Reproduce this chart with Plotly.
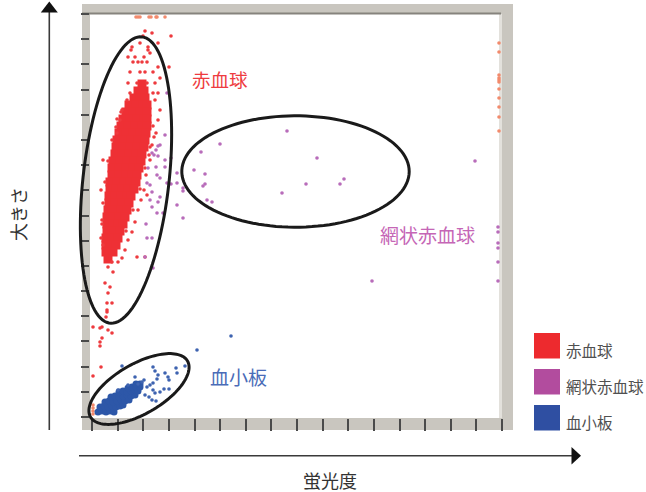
import numpy as np
import plotly.graph_objects as go

# ---------------- data (arbitrary units: fluorescence x, size y) ----------------
# RBC dense core
rbc_core_x = [50,
              46, 52,
              42, 48, 53,
              37, 44, 51, 55,
              34, 41, 48, 55,
              31, 38, 45, 52, 55,
              29, 36, 43, 50, 55,
              27, 34, 41, 48, 54,
              25, 32, 39, 46, 53,
              24, 31, 38, 45, 52,
              23, 30, 37, 44, 50,
              21, 28, 35, 42, 49,
              20, 27, 34, 41, 47,
              20, 27, 34, 40, 45,
              18, 25, 32, 38, 44,
              18, 24, 30, 36, 42,
              17, 23, 29, 35, 39,
              17, 23, 30, 37,
              16, 22, 29, 35,
              15, 21, 27, 33,
              15, 21, 26, 31,
              15, 22, 28,
              14, 20, 26,
              14, 19, 24,
              14, 21,
              16]
rbc_core_y = [333,
              326, 326,
              319, 319, 319,
              312, 312, 312, 312,
              305, 305, 305, 305,
              298, 298, 298, 298, 298,
              291, 291, 291, 291, 291,
              284, 284, 284, 284, 284,
              277, 277, 277, 277, 277,
              270, 270, 270, 270, 270,
              263, 263, 263, 263, 263,
              256, 256, 256, 256, 256,
              249, 249, 249, 249, 249,
              242, 242, 242, 242, 242,
              235, 235, 235, 235, 235,
              228, 228, 228, 228, 228,
              221, 221, 221, 221, 221,
              214, 214, 214, 214,
              207, 207, 207, 207,
              200, 200, 200, 200,
              193, 193, 193, 193,
              186, 186, 186,
              179, 179, 179,
              172, 172, 172,
              165, 165,
              158]

# RBC scattered events
rbc_x = [53, 60, 79, 51, 66, 48, 40, 56, 39, 56, 58, 36, 43, 52, 41, 46, 50, 55, 66, 77,
         38, 48, 53, 61, 68, 36, 45, 55, 63, 38, 61, 66, 35, 63, 30, 68, 28, 66, 25, 64,
         60, 58, 54, 52, 49, 55, 46, 43, 40, 36, 33, 45, 53, 11, 9, 10, 11, 30, 26, 20,
         16, 21, 13, 18, 16, 20, 15, 15, 14, 1, 8, 16, 20, 10, 8, 8, 9, 1, 10, 15,
         25, 20, 16, 13, 11, 10, 9, 61, 58, 53, 48, 41, 34, 62, 57, 29, 24]
rbc_y = [386, 384, 381, 381, 374, 374, 370, 370, 367, 367, 364, 360, 360, 360, 355, 355, 355, 355, 350, 350,
         345, 345, 345, 345, 339, 334, 334, 334, 334, 324, 324, 324, 317, 317, 307, 307, 297, 297, 284, 284,
         272, 257, 242, 227, 217, 222, 207, 195, 185, 177, 167, 160, 160, 257, 227, 197, 172, 159, 155, 155,
         150, 145, 134, 130, 124, 114, 114, 105, 100, 90, 89, 87, 84, 79, 75, 71, 50, 41, 90, 107,
         298, 277, 256, 235, 214, 193, 179, 291, 270, 249, 228, 207, 186, 280, 262, 305, 290]

# off-scale (edge) events
edge_x = [44, 46, 48, 57, 59, 64, 65, 73,
          407, 407, 407, 407, 407, 407, 407, 407, 407, 407, 407,
          1, 1, 1, 1]
edge_y = [400, 400, 400, 400, 400, 400, 400, 400,
          374, 365, 342, 339, 337, 335, 328, 319, 310, 300, 286,
          12, 9, 6, 3]

# reticulocytes
ret_x = [73, 68, 60, 62, 64, 66, 73, 79, 56, 64, 65, 73, 55, 58, 68, 75, 85, 85, 60, 68,
         58, 66, 60, 71, 65, 85, 91, 54, 55, 60, 53, 61, 195, 128, 109, 225, 102, 113, 252, 248,
         214, 113, 111, 79, 91, 91, 190, 115, 120, 383, 280, 75, 66,
         406, 406, 406, 406, 406, 406]
ret_y = [282, 272, 264, 262, 267, 261, 257, 259, 249, 250, 242, 250, 234, 232, 239, 234, 244, 234, 225, 220,
         217, 215, 210, 204, 204, 212, 199, 193, 179, 179, 160, 149, 286, 273, 265, 259, 247, 243, 238, 233,
         233, 233, 231, 233, 229, 226, 224, 217, 215, 256, 136, 324, 271,
         190, 185, 174, 169, 155, 136]

# platelets dense core
plt_core_x = [6, 10, 14, 18, 22,
              8, 12, 16, 20, 24, 28, 31,
              13, 17, 21, 25, 29, 33, 37,
              19, 23, 27, 31, 35, 39, 43,
              27, 31, 35, 39, 43, 46,
              36, 40, 44, 48,
              44, 48]
plt_core_y = [5, 6, 5, 6, 5,
              10, 11, 10, 11, 10, 11, 12,
              15, 16, 15, 16, 17, 16, 17,
              20, 21, 20, 21, 22, 21, 22,
              25, 26, 25, 26, 27, 26,
              29, 30, 30, 30,
              33, 33]

# platelets scattered events
plt_x = [43, 50, 52, 55, 58, 53, 57, 63, 60, 64, 61, 65, 66, 63, 61, 73, 76, 77, 72, 77,
         84, 85, 93, 30, 105, 139, 61, 68, 46, 36, 26]
plt_y = [40, 35, 37, 30, 32, 22, 20, 24, 17, 16, 34, 38, 42, 46, 50, 44, 40, 37, 28, 28,
         49, 44, 51, 51, 67, 81, 27, 25, 33, 32, 27]

legend_labels = ["赤血球", "網状赤血球", "血小板"]
legend_colors = ["#ED2A2E", "#B24C9E", "#2F4FA2"]

# ---------------- figure ----------------
FONT = "Noto Sans CJK JP"
W, H = 646, 492
ML, MR, MT, MB = 90, 144, 14, 74


def P(px, py):
    """pixel position -> paper coordinates (decoration only)"""
    return (px - ML) / (W - ML - MR), (H - MB - py) / (H - MT - MB)


fig = go.Figure()

fig.add_trace(go.Scatter(x=rbc_core_x, y=rbc_core_y, mode="markers",
                         marker=dict(symbol="square", size=9, color="#EE3035", line=dict(width=0)),
                         hoverinfo="skip"))
fig.add_trace(go.Scatter(x=rbc_x, y=rbc_y, mode="markers",
                         marker=dict(size=3.6, color="#EE3A3E", line=dict(width=0))))
fig.add_trace(go.Scatter(x=edge_x, y=edge_y, mode="markers",
                         marker=dict(size=3.6, color="#F28A6C", line=dict(width=0))))
fig.add_trace(go.Scatter(x=ret_x, y=ret_y, mode="markers",
                         marker=dict(size=3.6, color="#B86CBA", line=dict(width=0))))
fig.add_trace(go.Scatter(x=plt_core_x, y=plt_core_y, mode="markers",
                         marker=dict(symbol="circle", size=7, color="#2D57A8", line=dict(width=0))))
fig.add_trace(go.Scatter(x=plt_x, y=plt_y, mode="markers",
                         marker=dict(size=3.6, color="#3E63B0", line=dict(width=0))))

shapes = []
# grey frame
x0, y0 = P(82, 430); x1, y1 = P(513, 4)
shapes.append(dict(type="rect", xref="paper", yref="paper", x0=x0, y0=y0, x1=x1, y1=y1,
                   fillcolor="#C9C6BF", line=dict(width=0), layer="below"))
x0, y0 = P(90, 418); x1, y1 = P(499, 14)
shapes.append(dict(type="rect", xref="paper", yref="paper", x0=x0, y0=y0, x1=x1, y1=y1,
                   fillcolor="white", line=dict(width=0), layer="below"))
x0, y0 = P(499, 418); x1, y1 = P(502, 14)
shapes.append(dict(type="rect", xref="paper", yref="paper", x0=x0, y0=y0, x1=x1, y1=y1,
                   fillcolor="#E3E1DC", line=dict(width=0), layer="below"))
x0, y0 = P(82, 13.5); x1, y1 = P(501, 13.5)
shapes.append(dict(type="line", xref="paper", yref="paper", x0=x0, y0=y0, x1=x1, y1=y1,
                   line=dict(color="#86837D", width=2), layer="below"))


def ellipse_path(cx, cy, a, b, ang_deg):
    t = np.linspace(0, 2 * np.pi, 120)
    th = np.deg2rad(ang_deg)
    xs = cx + a * np.cos(t) * np.cos(th) - b * np.sin(t) * np.sin(th)
    ys = cy + a * np.cos(t) * np.sin(th) + b * np.sin(t) * np.cos(th)
    # data units -> paper (1 unit = 1 px, x range starts at -2, y at -1)
    xp = (xs + 2) / (W - ML - MR)
    yp = (ys + 1) / (H - MT - MB)
    pts = [f"{'M' if i == 0 else 'L'}{xp[i]:.5f},{yp[i]:.5f}" for i in range(len(t))]
    return " ".join(pts) + " Z"


for (cx, cy, a, b, ang) in [(34, 237, 144, 43, 83.6), (203.5, 245.5, 113.7, 55.7, 0), (47, 28, 56, 25, 30)]:
    shapes.append(dict(type="path", xref="paper", yref="paper", path=ellipse_path(cx, cy, a, b, ang),
                       line=dict(color="#1A1A1A", width=3), fillcolor="rgba(0,0,0,0)"))

# axis arrows
x0, y0 = P(49.3, 12); x1, y1 = P(49.3, 430)
shapes.append(dict(type="line", xref="paper", yref="paper", x0=x0, y0=y0, x1=x1, y1=y1,
                   line=dict(color="#3A3A3A", width=1.6)))
a1, a2, a3 = P(49.3, 1.5), P(40.8, 12.5), P(57.8, 12.5)
shapes.append(dict(type="path", xref="paper", yref="paper",
                   path=f"M{a1[0]},{a1[1]} L{a2[0]},{a2[1]} L{a3[0]},{a3[1]} Z",
                   fillcolor="#111111", line=dict(width=0)))
x0, y0 = P(79, 455.7); x1, y1 = P(573, 455.7)
shapes.append(dict(type="line", xref="paper", yref="paper", x0=x0, y0=y0, x1=x1, y1=y1,
                   line=dict(color="#3A3A3A", width=1.6)))
a1, a2, a3 = P(581, 455.7), P(571.5, 447), P(571.5, 464.5)
shapes.append(dict(type="path", xref="paper", yref="paper",
                   path=f"M{a1[0]},{a1[1]} L{a2[0]},{a2[1]} L{a3[0]},{a3[1]} Z",
                   fillcolor="#111111", line=dict(width=0)))

# legend swatches
annotations = []
for i, (lab, col) in enumerate(zip(legend_labels, legend_colors)):
    top = 333 + i * 36
    x0, y0 = P(534, top + 25.5); x1, y1 = P(560, top)
    shapes.append(dict(type="rect", xref="paper", yref="paper", x0=x0, y0=y0, x1=x1, y1=y1,
                       fillcolor=col, line=dict(width=0)))
    tx, ty = P(564, top + 17)
    annotations.append(dict(x=tx, y=ty, xref="paper", yref="paper", text=lab, showarrow=False,
                            xanchor="left", yanchor="middle",
                            font=dict(family=FONT, size=15.5, color="#505050")))

for (txt, px, py, size, col) in [("赤血球", 220, 79, 18.5, "#EE3B40"),
                                 ("網状赤血球", 427, 234, 19, "#C566B6"),
                                 ("血小板", 238, 376, 19, "#4A6CB8"),
                                 ("蛍光度", 330, 480, 18, "#333333")]:
    tx, ty = P(px, py)
    annotations.append(dict(x=tx, y=ty, xref="paper", yref="paper", text=txt, showarrow=False,
                            xanchor="center", yanchor="middle",
                            font=dict(family=FONT, size=size, color=col)))
tx, ty = P(18, 214)
annotations.append(dict(x=tx, y=ty, xref="paper", yref="paper", text="大きさ", showarrow=False,
                        textangle=-90, xanchor="center", yanchor="middle",
                        font=dict(family=FONT, size=18, color="#333333")))

fig.update_layout(
    width=W, height=H,
    margin=dict(l=ML, r=MR, t=MT, b=MB, pad=0),
    paper_bgcolor="white", plot_bgcolor="white",
    showlegend=False,
    shapes=shapes, annotations=annotations,
    xaxis=dict(range=[-2, 410], showgrid=False, zeroline=False, showline=False,
               showticklabels=False, ticks="outside", ticklen=12, tickwidth=2, tickcolor="#4A4A4A",
               tickmode="linear", tick0=0, dtick=25.625, fixedrange=True),
    yaxis=dict(range=[-1, 403], showgrid=False, zeroline=False, showline=False,
               showticklabels=False, ticks="outside", ticklen=8, tickwidth=2, tickcolor="#4A4A4A",
               tickmode="linear", tick0=0, dtick=25.1875, fixedrange=True),
)

fig.write_html("out.html", config={"displayModeBar": False},
               post_script="document.body.style.margin='0';document.body.style.padding='0';")
